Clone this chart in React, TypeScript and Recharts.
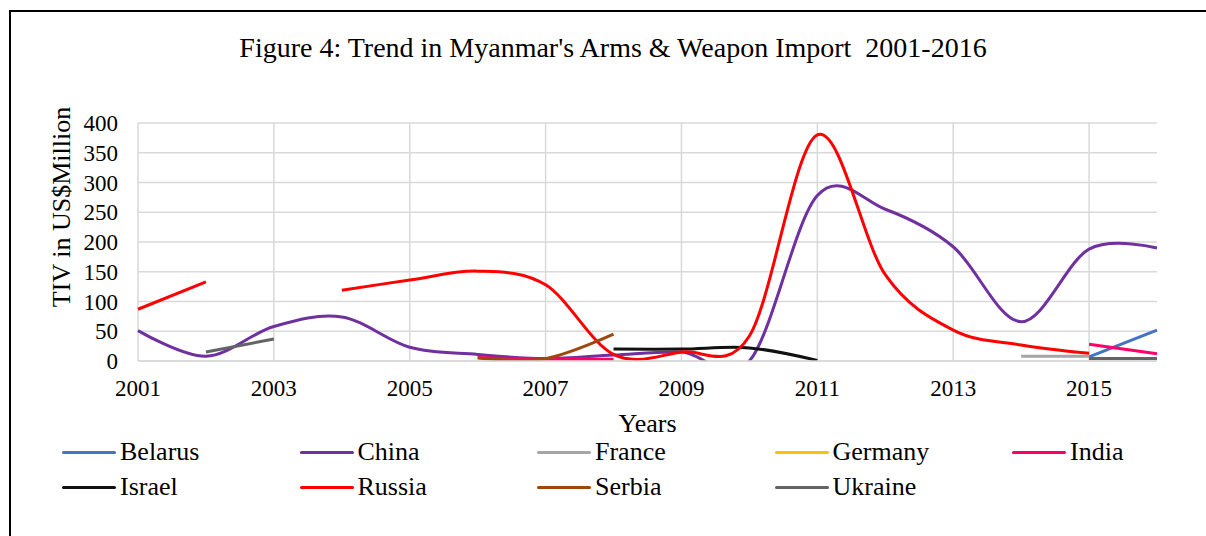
import React from 'react';
import { LineChart, Line, XAxis, YAxis, CartesianGrid, Label } from 'recharts';

const years = [2001, 2002, 2003, 2004, 2005, 2006, 2007, 2008, 2009, 2010, 2011, 2012, 2013, 2014, 2015, 2016];
const xTicks = [2001, 2003, 2005, 2007, 2009, 2011, 2013, 2015];
const yTicks = [0, 50, 100, 150, 200, 250, 300, 350, 400];

const belarus = [null, null, null, null, null, null, null, null, null, null, null, null, null, null, 7, 52];
const china = [51, 8, 58, 74, 23, 11, 4, 10, 15, 0, 278, 255, 192, 66, 188, 190];
const france = [null, null, null, null, null, null, null, null, null, null, null, null, null, 8, 8, null];
const germany = [null, null, null, null, null, null, null, null, null, null, null, null, null, null, null, null];
const india = [null, null, null, null, null, 6, 3, 3, null, null, null, null, null, null, 28, 12];
const israel = [null, null, null, null, null, null, null, 20, 20, 22, 1, null, null, null, null, null];
const russia = [87, 133, null, 119, 136, 151, 128, 11, 15, 42, 380, 145, 52, 27, 13, null];
const serbia = [null, null, null, null, null, 5, 4, 45, null, null, null, null, null, null, 4, 4];
const ukraine = [null, 15, 37, null, null, null, null, null, null, null, null, null, null, null, 4, 4];

const seriesNames = ['Belarus', 'China', 'France', 'Germany', 'India', 'Israel', 'Russia', 'Serbia', 'Ukraine'];
const seriesValues = [belarus, china, france, germany, india, israel, russia, serbia, ukraine];
const seriesColors = ['#4472C4', '#7030A0', '#A5A5A5', '#FFC000', '#FF0066', '#111111', '#FF0000', '#9E480E', '#636363'];

const data = years.map((y, i) => {
  const row: Record<string, number | null> = { year: y };
  seriesNames.forEach((n, j) => {
    row[n] = seriesValues[j][i];
  });
  return row;
});

const FONT = '"Liberation Serif", "Times New Roman", serif';

// Excel-like smoothed line (Catmull-Rom / cardinal with tension 0)
function excelCurve(context: any) {
  const k = 1 / 6;
  let x0 = NaN, y0 = NaN, x1 = NaN, y1 = NaN, x2 = NaN, y2 = NaN;
  let pt = 0;
  const seg = (x: number, y: number) => {
    context.bezierCurveTo(x1 + k * (x2 - x0), y1 + k * (y2 - y0), x2 + k * (x1 - x), y2 + k * (y1 - y), x2, y2);
  };
  return {
    areaStart() {},
    areaEnd() {},
    lineStart() {
      x0 = x1 = x2 = y0 = y1 = y2 = NaN;
      pt = 0;
    },
    lineEnd() {
      if (pt === 2) context.lineTo(x2, y2);
      else if (pt === 3) seg(x1, y1);
    },
    point(xIn: number, yIn: number) {
      const x = +xIn;
      const y = +yIn;
      if (pt === 0) {
        pt = 1;
        context.moveTo(x, y);
      } else if (pt === 1) {
        pt = 2;
        x1 = x;
        y1 = y;
      } else {
        pt = 3;
        seg(x, y);
      }
      x0 = x1; x1 = x2; x2 = x;
      y0 = y1; y1 = y2; y2 = y;
    },
  };
}

const YLabel = (props: any) => {
  const vb = props.viewBox || {};
  const cx = vb.x - 8;
  const cy = vb.y + vb.height / 2 - 35;
  return (
    <text
      x={cx}
      y={cy}
      transform={`rotate(-90 ${cx} ${cy})`}
      textAnchor="middle"
      fontSize={26}
      fontFamily={FONT}
      fill="#000"
    >
      TIV in US$Million
    </text>
  );
};

export default function App() {
  return (
    <div style={{ position: 'absolute', left: 0, top: 0, width: 1206, height: 536, overflow: 'hidden', background: '#fff', fontFamily: FONT }}>
      <div style={{ position: 'absolute', left: 9, top: 10, width: 1300, height: 700, borderLeft: '2px solid #000', borderTop: '2px solid #000' }} />
      <div style={{ position: 'absolute', left: 0, top: 30, width: 1226, textAlign: 'center', fontSize: 28, whiteSpace: 'pre', color: '#000', lineHeight: '36px' }}>
        {"Figure 4: Trend in Myanmar's Arms & Weapon Import  2001-2016"}
      </div>
      <div style={{ position: 'absolute', left: 0, top: 0 }}>
        <LineChart width={1206} height={536} data={data} margin={{ top: 123, right: 49, bottom: 95, left: 78 }}>
          <CartesianGrid stroke="#D9D9D9" strokeWidth={1.5} horizontalValues={yTicks} verticalValues={xTicks} />
          <XAxis
            dataKey="year"
            type="number"
            domain={[2001, 2016]}
            ticks={xTicks}
            interval={0}
            height={80}
            tickLine={false}
            tickSize={0}
            tickMargin={19}
            axisLine={{ stroke: '#D9D9D9', strokeWidth: 1.5 }}
            tick={{ fontSize: 23, fontFamily: FONT, fill: '#000' }}
          >
            <Label value="Years" position="insideBottom" offset={9} style={{ fontSize: 26, fontFamily: FONT, fill: '#000' }} />
          </XAxis>
          <YAxis
            type="number"
            domain={[0, 400]}
            ticks={yTicks}
            interval={0}
            allowDataOverflow
            width={60}
            axisLine={false}
            tickLine={false}
            tickSize={0}
            tickMargin={20}
            tick={{ fontSize: 23, fontFamily: FONT, fill: '#000' }}
          >
            <Label content={<YLabel />} />
          </YAxis>
          {seriesNames.map((n, j) => (
            <Line
              key={n}
              dataKey={n}
              type={excelCurve as any}
              stroke={seriesColors[j]}
              strokeWidth={3}
              dot={false}
              activeDot={false}
              connectNulls={false}
              isAnimationActive={false}
            />
          ))}
        </LineChart>
      </div>
      {seriesNames.map((n, j) => {
        const col = j % 5;
        const row = Math.floor(j / 5);
        const left = 62 + col * 237.5;
        const top = 452 + row * 35;
        return (
          <div key={n} style={{ position: 'absolute', left, top: top - 12, height: 24, display: 'flex', alignItems: 'center' }}>
            <div style={{ width: 54, height: 3, background: seriesColors[j], borderRadius: 1.5 }} />
            <span style={{ marginLeft: 4, fontSize: 26, color: '#000', lineHeight: '24px' }}>{n}</span>
          </div>
        );
      })}
    </div>
  );
}
